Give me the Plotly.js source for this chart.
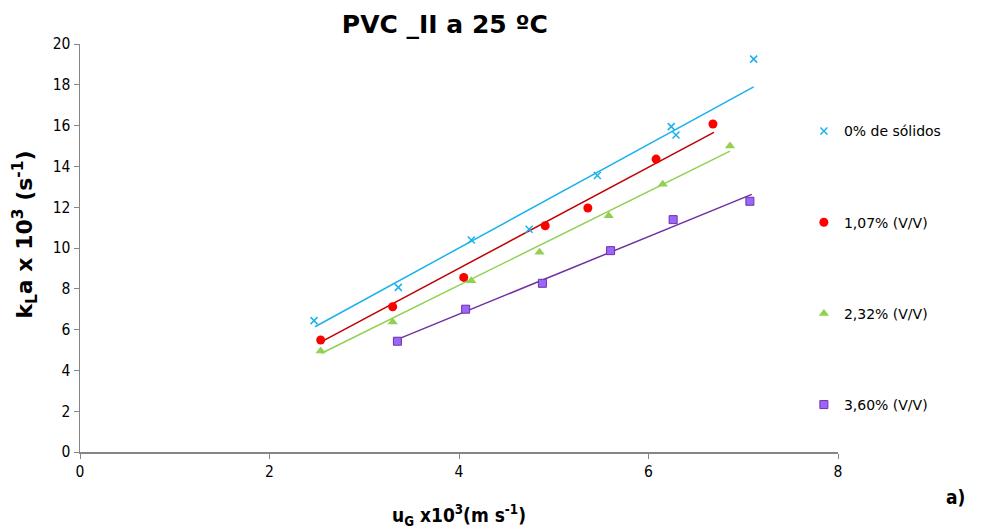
<!DOCTYPE html>
<html><head><meta charset="utf-8">
<script src="https://cdn.plot.ly/plotly-3.0.1.min.js"></script>
<style>html,body{margin:0;padding:0;background:#fff}#c{width:982px;height:532px}</style>
</head><body><div id="c"></div>
<script>
const seriesNames = ['0% de sólidos', '1,07% (V/V)', '2,32% (V/V)', '3,60% (V/V)'];
const x0 = [2.47, 3.36, 4.13, 4.74, 5.46, 6.24, 6.29, 7.11];
const y0 = [6.44, 8.07, 10.39, 10.92, 13.55, 15.95, 15.54, 19.26];
const x1 = [2.54, 3.30, 4.05, 4.91, 5.36, 6.08, 6.68];
const y1 = [5.49, 7.12, 8.56, 11.09, 11.96, 14.36, 16.08];
const x2 = [2.54, 3.30, 4.13, 4.85, 5.58, 6.15, 6.86];
const y2 = [4.95, 6.37, 8.40, 9.79, 11.58, 13.12, 15.00];
const x3 = [3.35, 4.07, 4.88, 5.60, 6.26, 7.07];
const y3 = [5.43, 7.00, 8.27, 9.87, 11.39, 12.29];
// trend lines (endpoints)
const tx0 = [2.48, 7.11], ty0 = [6.14, 17.90];
const tx1 = [2.55, 6.69], ty1 = [5.41, 15.67];
const tx2 = [2.55, 6.86], ty2 = [4.84, 14.75];
const tx3 = [3.35, 7.09], ty3 = [5.52, 12.63];

const sets = [
  {x:x0,y:y0,tx:tx0,ty:ty0,sym:'x-thin-open',size:7,col:'#1AB2EC',line:'#1AB2EC',ow:1.5,oc:'#1AB2EC'},
  {x:x1,y:y1,tx:tx1,ty:ty1,sym:'circle',size:9,col:'#FF0000',line:'#C00000',ow:0,oc:'#FF0000'},
  {x:x2,y:y2,tx:tx2,ty:ty2,sym:'triangle-up',size:9,col:'#92D050',line:'#92D050',ow:0,oc:'#92D050'},
  {x:x3,y:y3,tx:tx3,ty:ty3,sym:'square',size:8,col:'#9966FF',line:'#7030A0',ow:1,oc:'#7030A0'}
];
const traces = [];
sets.forEach((s,i)=>{
  traces.push({x:s.tx, y:s.ty, mode:'lines', line:{color:s.line, width:1.5}, showlegend:false, hoverinfo:'skip'});
});
sets.forEach((s,i)=>{
  traces.push({x:s.x, y:s.y, mode:'markers', name:seriesNames[i], legendgroup:'g'+i,
    marker:{symbol:s.sym, size:s.size, color:s.col, line:{width:s.ow, color:s.oc}}});
});

const fam = 'DejaVu Sans Condensed, DejaVu Sans, sans-serif';
const layout = {
  width:982, height:532,
  margin:{l:80, r:144, t:44, b:80},
  paper_bgcolor:'#fff', plot_bgcolor:'#fff',
  font:{family:fam, color:'#000', size:15},
  title:{text:'<b>PVC _II a 25 ºC</b>', font:{size:25, family:'DejaVu Sans, sans-serif'}, x:0.453, xanchor:'center', y:0.955, yanchor:'middle'},
  xaxis:{range:[0,8], dtick:2, tick0:0, showgrid:false, zeroline:false, showline:true, linecolor:'#868686', linewidth:1.5,
    ticks:'outside', ticklen:5, tickcolor:'#868686', tickfont:{size:15.5, family:fam},
    title:{text:'<b>u<sub>G</sub> x10<sup>3</sup>(m s<sup>-1</sup>)</b>', font:{size:19, family:fam}, standoff:28}},
  yaxis:{range:[0,20], dtick:2, tick0:0, showgrid:false, zeroline:false, showline:true, linecolor:'#868686', linewidth:1.5,
    ticks:'outside', ticklen:5, tickcolor:'#868686', tickfont:{size:15.5, family:fam}},
  legend:{x:0.955, xref:'paper', y:0.825, yanchor:'top', xanchor:'left', font:{size:14, family:'DejaVu Sans, sans-serif'},
    tracegroupgap:70, itemwidth:30, bgcolor:'rgba(0,0,0,0)'},
  annotations:[
    {text:'<b>a)</b>', xref:'paper', yref:'paper', x:1.155, y:-0.11, xanchor:'center', yanchor:'middle', showarrow:false, font:{size:19, family:fam}},
    {text:'<b>k<sub>L</sub>a x 10<sup>3</sup> (s<sup>-1</sup>)</b>', xref:'paper', yref:'paper', x:-0.073, y:0.532, xanchor:'center', yanchor:'middle', textangle:-90, showarrow:false, font:{size:22, family:'DejaVu Sans, sans-serif'}}
  ]
};
Plotly.newPlot('c', traces, layout, {displayModeBar:false, staticPlot:true});
</script></body></html>
